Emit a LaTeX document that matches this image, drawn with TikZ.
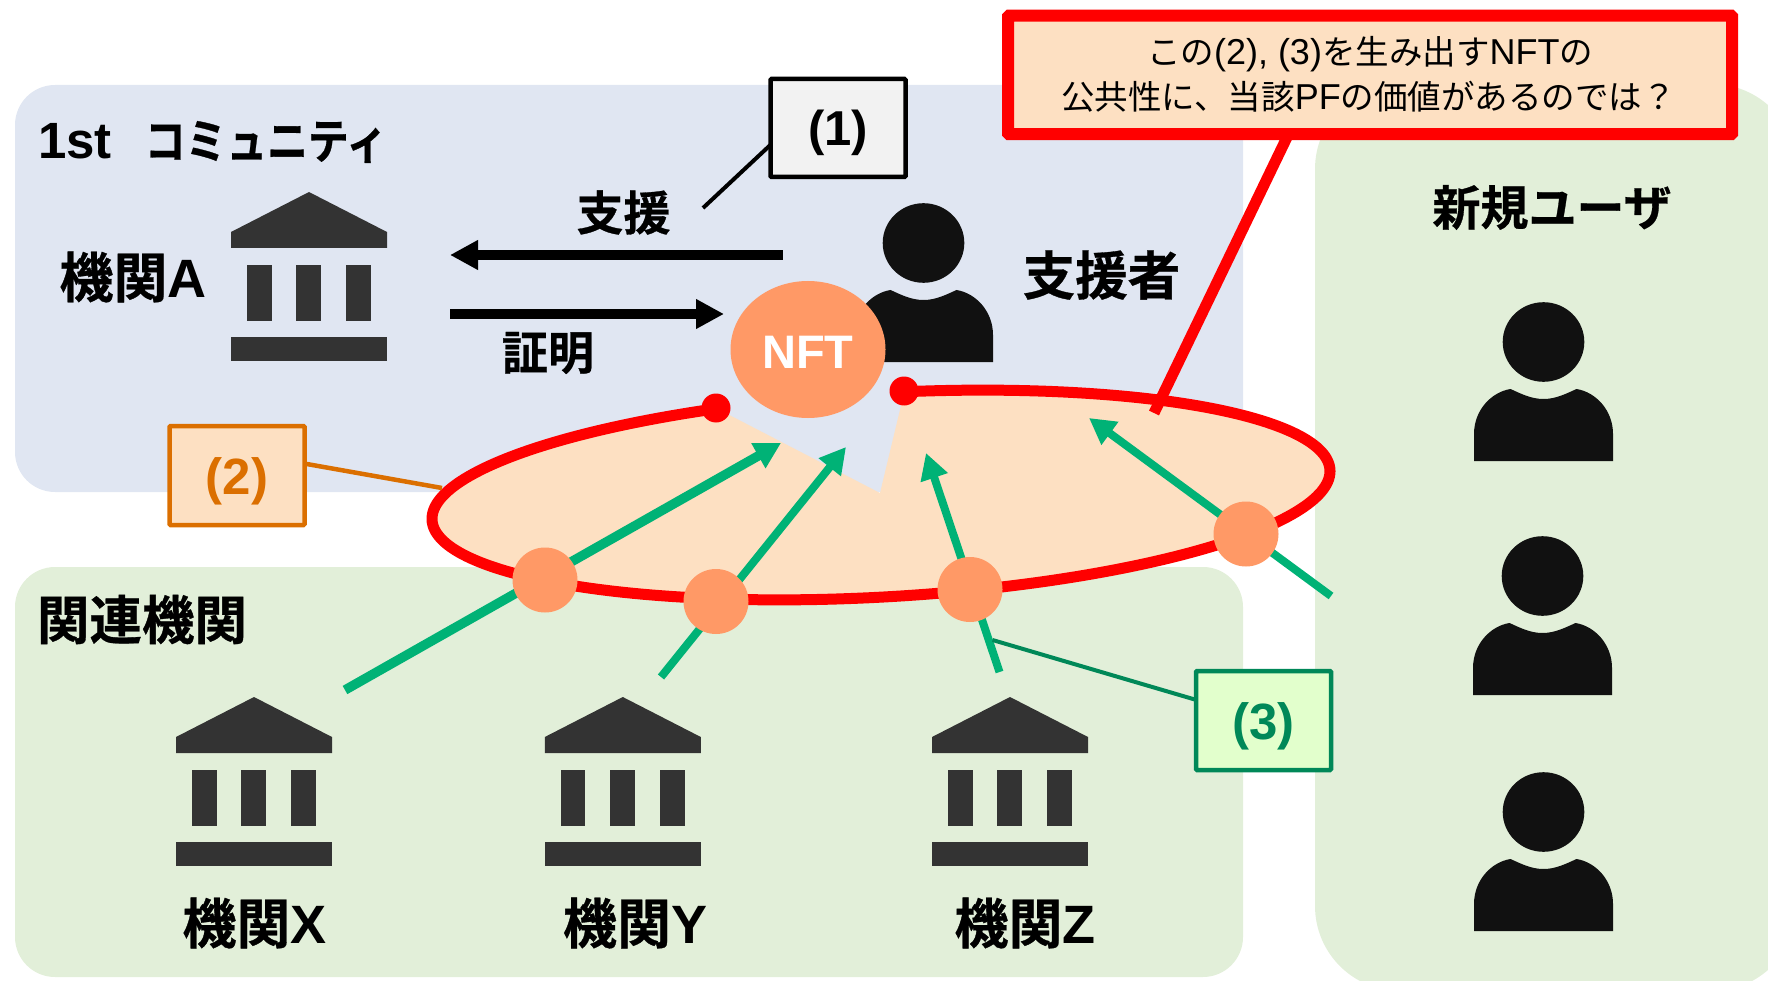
\documentclass[tikz,border=0pt]{standalone}
\usepackage{fontspec}
\usepackage{graphicx}
\setmainfont{Liberation Sans}
\newfontfamily\jpf{Noto Sans CJK JP}
\newfontfamily\jpb[FakeBold=0.6]{Noto Sans CJK JP Bold}
\usetikzlibrary{arrows.meta,shapes.geometric}
\definecolor{panelblue}{HTML}{E0E6F2}
\definecolor{panelgreen}{HTML}{E2EFD9}
\definecolor{peach}{HTML}{FDE0C2}
\definecolor{nftorange}{HTML}{FF9966}
\definecolor{arrowgreen}{HTML}{00B276}
\definecolor{darkgreen}{HTML}{008858}
\definecolor{burnt}{HTML}{DB6F00}
\definecolor{paleg}{HTML}{E2FFCC}
\definecolor{iconbank}{HTML}{333333}
\definecolor{iconperson}{HTML}{111111}
\newcommand{\fz}[1]{\fontsize{#1pt}{#1pt}\selectfont}
\newcommand{\jb}[1]{{\jpb #1}}
\newcommand{\lt}[1]{{\fontsize{36pt}{36pt}\rmfamily\selectfont #1}}
\tikzset{
  x=1pt,y=-1pt,
  panel/.style={rounded corners=40pt},
  bankicon/.pic={
    \fill[iconbank] (0,0) -- (78,40) -- (78,56) -- (-78,56) -- (-78,40) -- cycle;
    \fill[iconbank] (-62,72.6) rectangle (-37.5,129);
    \fill[iconbank] (-13,72.6) rectangle (12,129);
    \fill[iconbank] (37,72.6) rectangle (62,129);
    \fill[iconbank] (-78,145) rectangle (78,169);
  },
  personicon/.pic={
    \fill[iconperson] (0,0) ellipse[x radius=40.8,y radius=39.8];
    \fill[iconperson] (-69.5,119) -- (-69.5,92) .. controls (-69.5,68) and (-52,50) .. (-33,47)
      .. controls (-22,52) and (-12,57) .. (0,57) .. controls (12,57) and (22,52) .. (33,47)
      .. controls (52,50) and (69.5,68) .. (69.5,92) -- (69.5,119) -- cycle;
  },
  lab/.style={inner sep=0pt,outer sep=0pt,text=black},
  tagbox/.style={draw,rectangle,outer sep=0pt,inner sep=0pt,line width=4.5pt,minimum width=135pt,minimum height=99pt,rounded corners=1pt,text height=45pt,text depth=8pt},
  dot/.style={circle,fill=red,minimum size=29pt,inner sep=0pt,outer sep=0pt},
  token/.style={circle,fill=nftorange,minimum size=65pt,inner sep=0pt,outer sep=0pt},
  greenarrow/.style={draw=arrowgreen,line width=8pt,-{Triangle[length=26pt,width=27pt,fill=arrowgreen]}},
  blackarrow/.style={draw=black,line width=9.5pt,-{Triangle[length=28pt,width=28pt,fill=black]}},
}
\begin{document}
\begin{tikzpicture}
\clip (0,0) rectangle (1768,981);
\useasboundingbox (0,0) rectangle (1768,981);
% panels
\fill[panelblue,panel] (15,85) rectangle (1243,492);
\fill[panelgreen,panel] (15,567) rectangle (1243,977);
\fill[panelgreen,rounded corners=85pt] (1315,84) rectangle (1797,991);
% peach pie
\def\cx{881}\def\cy{495}\def\ra{449.7}\def\rb{102}\def\rot{3.2}
\coordinate (wedge) at (880,493);
\fill[peach] plot[domain=110.7:446.3,samples=240,variable=\t]
  ({\cx+\ra*cos(\t)*cos(\rot)-\rb*sin(\t)*sin(\rot)},{\cy-\ra*cos(\t)*sin(\rot)-\rb*sin(\t)*cos(\rot)})
  -- (wedge) -- cycle;
\draw[red,line width=11pt] plot[domain=110.7:446.3,samples=240,variable=\t]
  ({\cx+\ra*cos(\t)*cos(\rot)-\rb*sin(\t)*sin(\rot)},{\cy-\ra*cos(\t)*sin(\rot)-\rb*sin(\t)*cos(\rot)});
\node[dot] (dotL) at (716,408) {};
\node[dot] (dotR) at (904,391) {};
% icons
\pic (bankA) at (309,192) {bankicon};
\pic (bankX) at (254,697) {bankicon};
\pic (bankY) at (622.8,697) {bankicon};
\pic (bankZ) at (1010,697) {bankicon};
\pic (supporter) at (923.5,243) {personicon};
\pic (user1) at (1543.5,342) {personicon};
\pic (user2) at (1542.5,576) {personicon};
\pic (user3) at (1543.5,812) {personicon};
% NFT
\node[ellipse,fill=nftorange,minimum width=155pt,minimum height=137pt,inner sep=0pt,outer sep=0pt,text=white,text height=38.5pt,text depth=0pt] (nft) at (808,349.5) {\fz{47}\bfseries NFT};
% black arrows
\coordinate (supS) at (782.5,255); \coordinate (supE) at (450,255);
\coordinate (proS) at (450,314); \coordinate (proE) at (724,314);
\draw[blackarrow] (supS) -- (supE);
\draw[blackarrow] (proS) -- (proE);
% green arrows
\coordinate (a1s) at (345,690); \coordinate (a1e) at (781,443);
\coordinate (a2s) at (661,677); \coordinate (a2e) at (846,447);
\coordinate (a3s) at (999.5,672); \coordinate (a3e) at (926,453);
\coordinate (a4s) at (1331,596); \coordinate (a4e) at (1089,418);
\draw[greenarrow,line width=9.5pt] (a1s) -- (a1e);
\draw[greenarrow] (a2s) -- (a2e);
\draw[greenarrow] (a3s) -- (a3e);
\draw[greenarrow] (a4s) -- (a4e);
\node[token] (t1) at (545,580) {};
\node[token] (t2) at (716,601.5) {};
\node[token] (t3) at (970,589.5) {};
\node[token] (t4) at (1246,534) {};
% tag boxes and leaders
\node[tagbox,draw=black,fill=black!5,minimum height=98pt,text height=43pt,text depth=7pt] (tag1) at (838,128) {\fz{49}\bfseries (1)};
\node[tagbox,draw=burnt,fill=peach,text=burnt] (tag2) at (237,475.5) {\fz{51}\bfseries (2)};
\node[tagbox,draw=darkgreen,fill=paleg,text=darkgreen] (tag3) at (1263.5,720.5) {\fz{51}\bfseries (3)};
\coordinate (l1e) at (703,208);
\coordinate (l2e) at (442,488);
\coordinate (l3e) at (992.5,640);
\coordinate (l4e) at (1154,413);
\draw[black,line width=4pt] (tag1.194) -- (l1e);
\draw[burnt,line width=4.5pt] (tag2.10.4) -- (l2e);
\draw[darkgreen,line width=4pt] (tag3.163) -- (l3e);
% callout
\node[rectangle,draw=red,fill=peach,line width=12pt,minimum width=724pt,minimum height=118.5pt,inner sep=0pt,outer sep=0pt,rounded corners=1pt] (callout) at (1370,75) {};
\node[lab] (callL1) at (1370,54) {\fz{33.5}\jpf この\lt{(2), (3)}を生み出す\lt{NFT}の};
\node[lab] (callL2) at (1368.5,97) {\fz{33.5}\jpf 公共性に、当該\lt{PF}の価値があるのでは？};
\draw[red,line width=11pt] (callout.216.8) -- (l4e);
% labels
\node[lab] (t1st) at (75,141) {\fz{51}\bfseries 1st};
\node[lab] (tcomm) at (266,142) {\fz{48}\scalebox{.85}[1]{\jb{コミュニティ}}};
\node[lab] (tA) at (133,277) {\fz{54}\jb{機関}\bfseries A};
\node[lab] (tsup) at (623.5,212.5) {\fz{47}\jb{支援}};
\node[lab] (tpro) at (548,353) {\fz{46}\jb{証明}};
\node[lab] (tsupr) at (1101.5,275) {\fz{52.5}\jb{支援者}};
\node[lab] (tnew) at (1552,207.5) {\fz{48}\jb{新規ユーザ}};
\node[lab] (trel) at (142,619.5) {\fz{52.5}\jb{関連機関}};
\node[lab] (tX) at (254.5,923) {\fz{54}\jb{機関}\bfseries X};
\node[lab] (tY) at (635,923) {\fz{54}\jb{機関}\bfseries Y};
\node[lab] (tZ) at (1025,923) {\fz{54}\jb{機関}\bfseries Z};
\end{tikzpicture}
\end{document}
